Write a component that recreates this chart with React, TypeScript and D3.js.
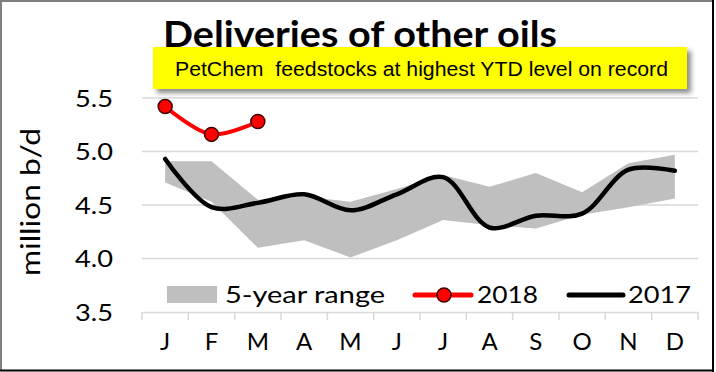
import { useEffect, useRef } from "react";
import * as d3 from "d3";

const months = ["J", "F", "M", "A", "M2", "J2", "J3", "A2", "S", "O", "N", "D"];
const monthLabels = ["J", "F", "M", "A", "M", "J", "J", "A", "S", "O", "N", "D"];
const rangeLow = [4.71, 4.53, 4.1, 4.17, 4.01, 4.17, 4.36, 4.31, 4.28, 4.41, 4.48, 4.56];
const rangeHigh = [4.91, 4.91, 4.55, 4.58, 4.53, 4.65, 4.78, 4.67, 4.8, 4.62, 4.89, 4.97];
const y2017 = [4.93, 4.48, 4.52, 4.6, 4.45, 4.6, 4.76, 4.29, 4.4, 4.42, 4.83, 4.82];
const y2018 = [5.42, 5.16, 5.28];
const yTicks = [3.5, 4.0, 4.5, 5.0, 5.5];

const FONT = "Lato, 'Open Sans', sans-serif";

export default function App() {
  const svgRef = useRef<SVGSVGElement>(null);

  useEffect(() => {
    if (!svgRef.current) return;
    const W = 716, H = 372;
    const svg = d3.select(svgRef.current);
    svg.selectAll("*").remove();
    svg.attr("width", W).attr("height", H);

    const defs = svg.append("defs");
    const f = defs.append("filter").attr("id", "shadow").attr("x", "-5%").attr("y", "-20%").attr("width", "115%").attr("height", "160%");
    f.append("feDropShadow").attr("dx", 4).attr("dy", 4).attr("stdDeviation", 2.5).attr("flood-color", "#000").attr("flood-opacity", 0.45);

    svg.append("rect").attr("width", W).attr("height", H).attr("fill", "#fff");

    const x = d3.scaleBand<string>().domain(months).range([142, 698]);
    const cx = (i: number) => (x(months[i]) as number) + x.bandwidth() / 2;
    const y = d3.scaleLinear().domain([3.5, 5.5]).range([312, 98]);

    // gridlines
    svg.append("g")
      .selectAll("line")
      .data(yTicks.slice(1))
      .enter()
      .append("line")
      .attr("x1", 142).attr("x2", 698)
      .attr("y1", d => y(d)).attr("y2", d => y(d))
      .attr("stroke", "#d9d9d9").attr("stroke-width", 1.5);

    // x axis
    const xAxis = d3.axisBottom(x).tickSize(0).tickFormat((_, i) => monthLabels[i]);
    const gx = svg.append("g").attr("transform", `translate(0,${y(3.5)})`).call(xAxis);
    gx.select(".domain").attr("stroke", "#d9d9d9").attr("stroke-width", 1.5);
    gx.selectAll("text").attr("font-family", FONT).attr("font-size", 24).attr("fill", "#000").attr("dy", "1.45em");
    svg.append("g")
      .selectAll("line")
      .data(d3.range(13))
      .enter()
      .append("line")
      .attr("x1", i => 142 + i * x.bandwidth()).attr("x2", i => 142 + i * x.bandwidth())
      .attr("y1", y(3.5)).attr("y2", y(3.5) + 8)
      .attr("stroke", "#d9d9d9").attr("stroke-width", 1.5);

    // y tick labels
    svg.append("g")
      .selectAll("text")
      .data(yTicks)
      .enter()
      .append("text")
      .attr("x", 113).attr("y", d => y(d))
      .attr("dy", "0.36em")
      .attr("text-anchor", "end")
      .attr("font-family", FONT).attr("font-size", 24)
      .attr("textLength", 38).attr("lengthAdjust", "spacingAndGlyphs")
      .text(d => d.toFixed(1));

    svg.append("text")
      .attr("transform", "translate(40,202) rotate(-90)")
      .attr("text-anchor", "middle")
      .attr("font-family", FONT).attr("font-size", 27)
      .attr("textLength", 148).attr("lengthAdjust", "spacingAndGlyphs")
      .text("million b/d");

    // 5-year range
    const area = d3.area<number>()
      .x((_, i) => cx(i))
      .y0((_, i) => y(rangeLow[i]))
      .y1(d => y(d));
    svg.append("path").datum(rangeHigh).attr("d", area).attr("fill", "#bfbfbf");

    // 2017
    const line = d3.line<number>().x((_, i) => cx(i)).y(d => y(d)).curve(d3.curveCatmullRom.alpha(0.5));
    svg.append("path").datum(y2017).attr("d", line).attr("fill", "none").attr("stroke", "#000").attr("stroke-width", 4.5).attr("stroke-linecap", "round");

    // 2018
    svg.append("path").datum(y2018).attr("d", line).attr("fill", "none").attr("stroke", "#ff0000").attr("stroke-width", 4).attr("stroke-linecap", "round");
    svg.append("g")
      .selectAll("circle")
      .data(y2018)
      .enter()
      .append("circle")
      .attr("cx", (_, i) => cx(i)).attr("cy", d => y(d))
      .attr("r", 7).attr("fill", "#ff0000").attr("stroke", "#400000").attr("stroke-width", 1.5);

    // legend
    const lg = svg.append("g").attr("font-family", FONT).attr("font-size", 24);
    lg.append("rect").attr("x", 167).attr("y", 286).attr("width", 50).attr("height", 17).attr("fill", "#bfbfbf");
    lg.append("text").attr("x", 225).attr("y", 303).attr("textLength", 160).attr("lengthAdjust", "spacingAndGlyphs").text("5-year range");
    lg.append("line").attr("x1", 415).attr("x2", 471).attr("y1", 295).attr("y2", 295).attr("stroke", "#ff0000").attr("stroke-width", 5).attr("stroke-linecap", "round");
    lg.append("circle").attr("cx", 444).attr("cy", 295).attr("r", 7).attr("fill", "#ff0000").attr("stroke", "#400000").attr("stroke-width", 1.5);
    lg.append("text").attr("x", 477).attr("y", 303).attr("textLength", 61).attr("lengthAdjust", "spacingAndGlyphs").text("2018");
    lg.append("line").attr("x1", 569).attr("x2", 623).attr("y1", 295).attr("y2", 295).attr("stroke", "#000").attr("stroke-width", 5).attr("stroke-linecap", "round");
    lg.append("text").attr("x", 628).attr("y", 303).attr("textLength", 63).attr("lengthAdjust", "spacingAndGlyphs").text("2017");

    // title
    svg.append("text")
      .attr("x", 163).attr("y", 47)
      .attr("font-family", FONT).attr("font-size", 37).attr("font-weight", 700)
      .attr("textLength", 394).attr("lengthAdjust", "spacingAndGlyphs")
      .text("Deliveries of other oils");

    // yellow callout
    svg.append("rect").attr("x", 153).attr("y", 47).attr("width", 534).attr("height", 42)
      .attr("fill", "#ffff00").attr("filter", "url(#shadow)");
    svg.append("text")
      .attr("x", 175).attr("y", 76)
      .attr("font-family", "'Liberation Sans', Arial, sans-serif").attr("font-size", 20)
      .attr("textLength", 493).attr("lengthAdjust", "spacingAndGlyphs")
      .style("white-space", "pre")
      .text("PetChem  feedstocks at highest YTD level on record");

    // frame
    svg.append("line").attr("x1", 0).attr("x2", 714).attr("y1", 1).attr("y2", 1).attr("stroke", "#7f7f7f").attr("stroke-width", 2);
    svg.append("line").attr("x1", 1).attr("x2", 1).attr("y1", 0).attr("y2", 371).attr("stroke", "#7f7f7f").attr("stroke-width", 2);
    svg.append("line").attr("x1", 713).attr("x2", 713).attr("y1", 0).attr("y2", 372).attr("stroke", "#000").attr("stroke-width", 2);
    svg.append("line").attr("x1", 0).attr("x2", 714).attr("y1", 370.5).attr("y2", 370.5).attr("stroke", "#000").attr("stroke-width", 2);
  }, []);

  return (
    <div style={{ position: "absolute", left: 0, top: 0 }}>
      <svg ref={svgRef}></svg>
    </div>
  );
}
